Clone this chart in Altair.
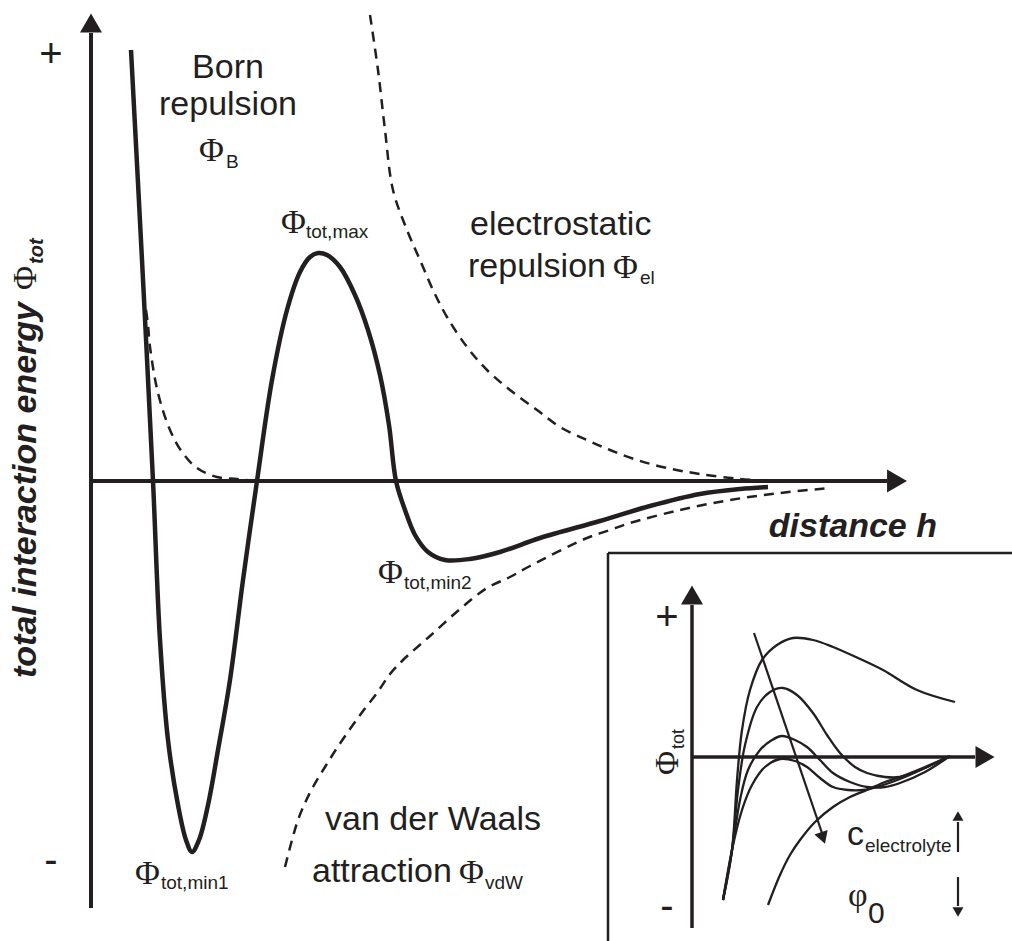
import altair as alt
import pandas as pd

W, H = 1012, 941

# ---------------- main diagram (x to the right, y downward) ----------------
# total interaction energy (solid)
total_x = [131, 142, 153, 160, 168, 178, 186, 192, 199, 208, 218, 230, 243, 257,
           272, 287, 300, 310, 318, 327, 340, 355, 368, 380, 389, 396, 405, 415,
           428, 445, 470, 500, 540, 600, 650, 700, 740, 768]
total_y = [50, 260, 481, 640, 740, 805, 840, 852, 840, 805, 750, 680, 580, 481,
           380, 310, 272, 257, 253, 255, 267, 295, 330, 375, 425, 481, 510, 535,
           552, 560, 559, 552, 538, 521, 506, 494, 489, 487]

# Born repulsion (dashed)
born_x = [146, 148, 150, 158, 170, 182, 197, 217, 237, 255]
born_y = [310, 325, 347, 393, 430, 452, 468, 477, 479, 481]

# electrostatic repulsion (dashed)
el_x = [370, 378, 385, 393, 407, 420, 433, 447, 467, 487, 510, 537, 560, 587, 610,
        637, 667, 700, 740, 770]
el_y = [15, 70, 130, 190, 230, 260, 290, 317, 347, 370, 390, 410, 427, 440, 450,
        460, 468, 474, 479, 481]

# van der Waals attraction (dashed)
vdw_x = [285, 292, 298, 305, 313, 325, 337, 350, 363, 377, 390, 403, 430, 460, 487,
         510, 530, 587, 610, 630, 680, 730, 780, 830]
vdw_y = [867, 840, 820, 803, 787, 767, 748, 729, 711, 693, 674, 660, 636, 609, 588,
         577, 566, 538, 530, 523, 510, 500, 493, 488]

# ---------------- inset: total energy for rising electrolyte concentration ----------------
inset_a_x = [723, 732, 737, 742, 750, 762, 777, 793, 813, 833, 858, 883, 917, 955]
inset_a_y = [900, 850, 780, 730, 690, 660, 645, 638, 640, 647, 658, 670, 690, 702]

inset_b_x = [723, 732, 738, 745, 757, 770, 783, 797, 813, 827, 840, 855, 867, 885, 900, 920, 950]
inset_b_y = [900, 850, 790, 745, 707, 692, 688, 695, 713, 735, 753, 767, 773, 777, 777, 770, 756]

inset_c_x = [723, 732, 740, 748, 760, 772, 782, 795, 807, 820, 833, 850, 867, 885, 900, 925, 950]
inset_c_y = [900, 850, 800, 770, 750, 740, 736, 740, 747, 760, 773, 782, 787, 787, 783, 772, 756]

inset_d_x = [723, 732, 742, 752, 765, 780, 795, 807, 820, 833, 848, 863, 880, 900, 925, 950]
inset_d_y = [900, 850, 810, 785, 767, 759, 761, 767, 778, 787, 790, 790, 786, 779, 768, 756]

inset_e_x = [768, 780, 790, 800, 815, 833, 850, 867, 885, 900, 925, 950]
inset_e_y = [905, 875, 855, 840, 822, 807, 797, 790, 782, 777, 767, 756]


def curve(name, xs, ys):
    return pd.DataFrame({"x": xs, "y": ys, "curve": name, "i": list(range(len(xs)))})


X = alt.X("x:Q", scale=alt.Scale(domain=[0, W], nice=False, zero=False), axis=None)
Y = alt.Y("y:Q", scale=alt.Scale(domain=[0, H], nice=False, zero=False, reverse=True), axis=None)
X2 = alt.X2("x2:Q")
Y2 = alt.Y2("y2:Q")
INK = "#231f20"


def lines(df, width, dash=None):
    kw = dict(color=INK, strokeWidth=width, interpolate="catmull-rom", strokeCap="butt",
              strokeJoin="round")
    if dash:
        kw["strokeDash"] = dash
    return alt.Chart(df).mark_line(**kw).encode(
        x=X, y=Y, detail="curve:N", order="i:Q")


def segments(rows, width):
    df = pd.DataFrame(rows, columns=["x", "y", "x2", "y2"])
    return alt.Chart(df).mark_rule(color=INK, strokeWidth=width).encode(
        x=X, y=Y, x2=X2, y2=Y2)


def heads(rows):
    df = pd.DataFrame(rows, columns=["x", "y", "angle", "size"])
    return alt.Chart(df).mark_point(
        shape="triangle-up", filled=True, opacity=1, color=INK, strokeWidth=0
    ).encode(x=X, y=Y, angle=alt.Angle("angle:Q", scale=None),
             size=alt.Size("size:Q", scale=None))


def texts(rows, font, size, align="left", angle=0, style="normal", weight="normal"):
    df = pd.DataFrame(rows, columns=["t", "x", "y"])
    return alt.Chart(df).mark_text(
        font=font, fontSize=size, align=align, baseline="alphabetic", angle=angle,
        fontStyle=style, fontWeight=weight, color=INK
    ).encode(x=X, y=Y, text="t:N")


SANS = "Liberation Sans"
SERIF = "Liberation Serif"

layers = [
    # axes of the main diagram
    segments([[91, 33, 91, 908], [91, 481, 887, 481]], 4),
    heads([[91, 23, 0, 484], [897, 481, 90, 529]]),
    # inset frame and axes
    segments([[608, 553, 1012, 553], [608, 553, 608, 941]], 2.5),
    segments([[692, 605, 692, 928], [692, 757, 975, 757]], 3.5),
    heads([[692, 595, 0, 484], [985, 757, 90, 484]]),
    # inset arrows
    segments([[754, 633, 822, 833], [958, 822, 958, 852], [958, 877, 958, 906]], 2.2),
    heads([[823, 838, 161, 196], [958, 816, 0, 120], [958, 912, 180, 120]]),
    # curves
    lines(pd.concat([curve("born", born_x, born_y), curve("el", el_x, el_y),
                     curve("vdw", vdw_x, vdw_y)]), 2.5, dash=[10, 7]),
    lines(curve("total", total_x, total_y), 4.5),
    lines(pd.concat([curve("a", inset_a_x, inset_a_y), curve("b", inset_b_x, inset_b_y),
                     curve("c", inset_c_x, inset_c_y), curve("d", inset_d_x, inset_d_y),
                     curve("e", inset_e_x, inset_e_y)]), 2.3),
    # labels
    texts([["+", 51, 67], ["-", 51, 873], ["+", 667, 630], ["-", 667, 919]], SANS, 40,
          align="center"),
    texts([["Born", 228, 78], ["repulsion", 228, 115]], SANS, 34, align="center"),
    texts([["electrostatic", 470, 235], ["repulsion", 468, 277],
           ["van der Waals", 325, 830], ["attraction", 312, 882],
           ["c", 847, 845]], SANS, 34),
    texts([["Φ", 199, 161], ["Φ", 281, 233], ["Φ", 378, 583], ["Φ", 135, 884],
           ["Φ", 613, 278], ["Φ", 459, 883]], SERIF, 34),
    texts([["φ", 848, 906]], SERIF, 34),
    texts([["B", 226, 168], ["tot,max", 306, 238], ["tot,min2", 404, 589],
           ["tot,min1", 161, 889], ["el", 640, 284], ["vdW", 485, 889],
           ["electrolyte", 865, 852]], SANS, 19),
    texts([["0", 868, 923]], SANS, 30),
    texts([["distance h", 937, 537]], SANS, 34, align="right", style="italic", weight="bold"),
    texts([["total interaction energy", 36, 678]], SANS, 34, angle=270,
          style="italic", weight="bold"),
    texts([["Φ", 36, 290], ["Φ", 678, 775]], SERIF, 33, angle=270),
    texts([["tot", 43, 264]], SANS, 20, angle=270, style="italic", weight="bold"),
    texts([["tot", 684, 749]], SANS, 18, angle=270),
]

chart = alt.layer(*layers).properties(
    width=W, height=H, padding=0, autosize=alt.AutoSizeParams(type="none"),
    background="white"
).configure_view(stroke=None)

chart.save("out.html", embed_options={"renderer": "svg", "actions": False})
